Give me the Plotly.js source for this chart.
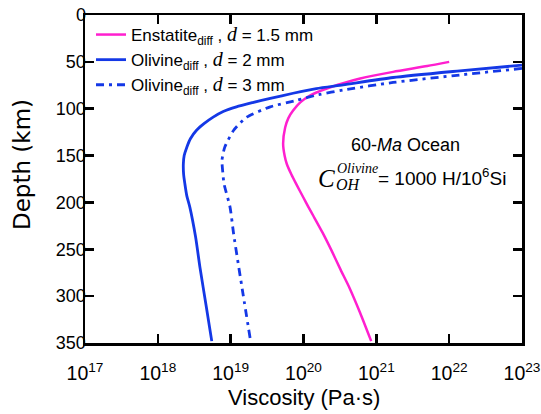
<!DOCTYPE html>
<html>
<head>
<meta charset="utf-8">
<script src="https://cdn.plot.ly/plotly-3.0.1.min.js"></script>
<style>html,body{margin:0;padding:0;background:#fff;}#chart{width:541px;height:414px;}</style>
</head>
<body>
<div id="chart"></div>
<script>
// Enstatite diffusion creep, d = 1.5 mm
var enstVisc  = [1.0e22, 5.0e21, 1.7e21, 6.0e20, 3.5e20, 2.0e20, 1.26e20, 9.1e19, 7.2e19, 6.2e19, 5.6e19, 5.25e19, 5.5e19, 5.9e19, 6.8e19, 7.9e19, 1.0e20, 1.17e20, 1.38e20, 1.82e20, 2.45e20, 3.24e20, 4.27e20, 6.0e20, 8.5e20];
var enstDepth = [50, 54.5, 60.7, 67.8, 72.8, 79, 85.5, 93, 102, 110, 120, 137, 150, 159, 170, 180, 195, 205, 215, 232, 252, 272, 291, 318, 348];
// Olivine diffusion creep, d = 2 mm
var oliv2Visc  = [1.0e23, 1.4e22, 1.7e21, 3.5e20, 1.5e20, 7.2e19, 3.5e19, 2.0e19, 1.2e19, 7.9e18, 5.75e18, 4.3e18, 3.4e18, 2.8e18, 2.5e18, 2.3e18, 2.24e18, 2.26e18, 2.35e18, 2.5e18, 2.75e18, 3.3e18, 3.8e18, 4.6e18, 5.5e18];
var oliv2Depth = [53.5, 59.6, 66.7, 74.5, 78.5, 83.5, 89, 93.5, 98, 103, 109, 116, 123, 132, 141, 150, 159, 170, 180, 193, 205, 237, 270, 310, 348];
// Olivine diffusion creep, d = 3 mm
var oliv3Visc  = [1.0e23, 1.4e22, 1.7e21, 3.5e20, 1.6e20, 8.1e19, 3.5e19, 1.66e19, 1.1e19, 8.3e18, 7.6e18, 7.8e18, 8.1e18, 9.8e18, 1.1e19, 1.48e19, 1.86e19];
var oliv3Depth = [57, 64, 72, 80, 85, 91, 98, 109, 123, 141, 155, 168, 180, 205, 234, 298, 346];

var seriesNames = [
  'Enstatite<sub>diff</sub> , <span style="font-family:\'Liberation Serif\';font-style:italic;font-size:20px">d</span> = 1.5 mm',
  'Olivine<sub>diff</sub> , <span style="font-family:\'Liberation Serif\';font-style:italic;font-size:20px">d</span> = 2 mm',
  'Olivine<sub>diff</sub> , <span style="font-family:\'Liberation Serif\';font-style:italic;font-size:20px">d</span> = 3 mm'
];
var depthTicks = [0, 50, 100, 150, 200, 250, 300, 350];
var viscTicks = [1e17, 1e18, 1e19, 1e20, 1e21, 1e22, 1e23];
var viscTickText = ['10<sup>17</sup>', '10<sup>18</sup>', '10<sup>19</sup>', '10<sup>20</sup>', '10<sup>21</sup>', '10<sup>22</sup>', '10<sup>23</sup>'];

var FONT = 'Arial, "Liberation Sans", sans-serif';
var SERIF = '"Liberation Serif", "Times New Roman", serif';
var pink = '#ff1fcf', blue = '#1438e6';

var traces = [
  {x: enstVisc, y: enstDepth, name: seriesNames[0], mode: 'lines', line: {color: pink, width: 2.5, shape: 'spline', smoothing: 0.6}},
  {x: oliv2Visc, y: oliv2Depth, name: seriesNames[1], mode: 'lines', line: {color: blue, width: 2.8, shape: 'spline', smoothing: 0.6}},
  {x: oliv3Visc, y: oliv3Depth, name: seriesNames[2], mode: 'lines', line: {color: blue, width: 2.8, dash: '8px,5px,3px,5px', shape: 'spline', smoothing: 0.6}}
];

function px2x(p){ return (p - 85) / 437; }
function px2y(p){ return (343 - p) / 328; }

var layout = {
  width: 541, height: 414,
  margin: {l: 85, r: 19, t: 15, b: 71},
  paper_bgcolor: '#fff', plot_bgcolor: '#fff',
  font: {family: FONT, size: 18, color: '#000'},
  showlegend: true,
  legend: {x: px2x(91), y: px2y(17), xanchor: 'left', yanchor: 'top', bgcolor: 'rgba(0,0,0,0)',
           font: {family: FONT, size: 17, color: '#000'}, tracegroupgap: 0},
  xaxis: {type: 'log', range: [17, 23], tickvals: viscTicks, ticktext: viscTickText,
          ticks: 'inside', ticklen: 9, tickwidth: 2.5, tickcolor: '#000', ticklabelstandoff: 11,
          showline: true, linewidth: 2.5, linecolor: '#000', mirror: 'allticks',
          showgrid: false, zeroline: false, tickfont: {family: FONT, size: 19.5, color: '#000'}},
  yaxis: {range: [350, 0], tickvals: depthTicks, ticktext: depthTicks.map(String),
          ticks: 'inside', ticklen: 9, tickwidth: 2.5, tickcolor: '#000', ticklabelstandoff: -7,
          showline: true, linewidth: 2.5, linecolor: '#000', mirror: 'allticks',
          showgrid: false, zeroline: false, tickfont: {family: FONT, size: 18, color: '#000'}},
  annotations: [
    {xref: 'paper', yref: 'paper', x: px2x(22), y: px2y(165), xanchor: 'center', yanchor: 'middle',
     text: 'Depth (km)', textangle: -90, showarrow: false, font: {family: '"DejaVu Sans", sans-serif', size: 23}},
    {xref: 'paper', yref: 'paper', x: px2x(304), y: px2y(397), xanchor: 'center', yanchor: 'middle',
     text: 'Viscosity (Pa\u00b7s)', showarrow: false, font: {family: FONT, size: 22}},
    {xref: 'paper', yref: 'paper', x: px2x(405), y: px2y(145), xanchor: 'center', yanchor: 'middle',
     text: '60-<i>Ma</i> Ocean', showarrow: false, font: {family: FONT, size: 18}},
    {xref: 'paper', yref: 'paper', x: px2x(326), y: px2y(178), xanchor: 'center', yanchor: 'middle',
     text: '<i>C</i>', showarrow: false, font: {family: SERIF, size: 25}},
    {xref: 'paper', yref: 'paper', x: px2x(335), y: px2y(168), xanchor: 'left', yanchor: 'middle',
     text: '<i>Olivine</i>', showarrow: false, font: {family: SERIF, size: 14}},
    {xref: 'paper', yref: 'paper', x: px2x(334), y: px2y(184), xanchor: 'left', yanchor: 'middle',
     text: '<i>OH</i>', showarrow: false, font: {family: SERIF, size: 16}},
    {xref: 'paper', yref: 'paper', x: px2x(376), y: px2y(177), xanchor: 'left', yanchor: 'middle',
     text: '= 1000 H/10<sup>6</sup>Si', showarrow: false, font: {family: FONT, size: 19}}
  ]
};

Plotly.newPlot('chart', traces, layout, {staticPlot: true, displayModeBar: false});
</script>
</body>
</html>
